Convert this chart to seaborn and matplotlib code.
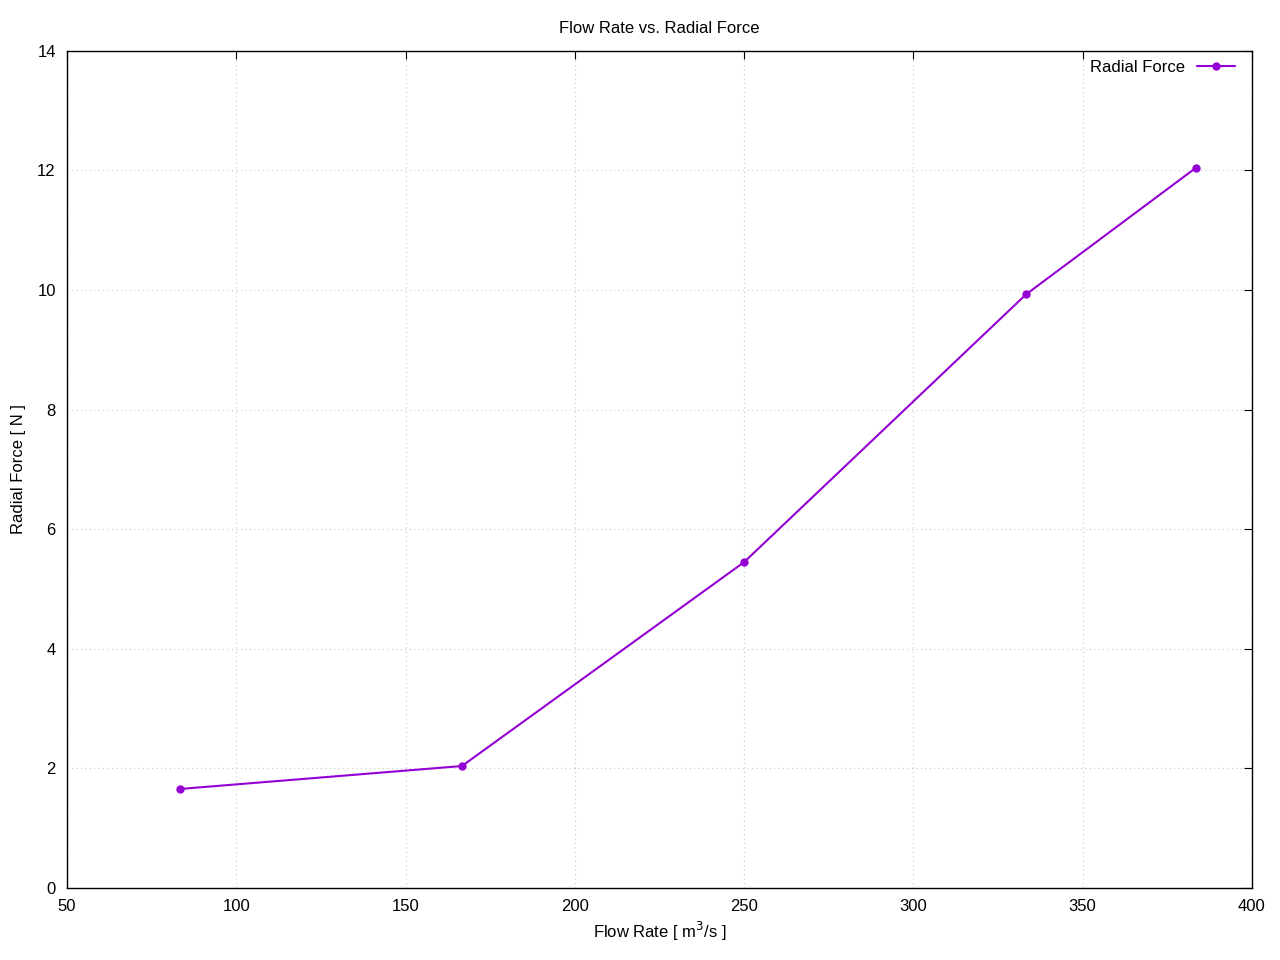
import matplotlib
matplotlib.use('Agg')
import matplotlib.pyplot as plt
import seaborn as sns
import pandas as pd

# values
flow_rate = [83.33, 166.67, 250.0, 333.33, 383.33]
radial_force = [1.656, 2.04, 5.45, 9.93, 12.04]

df = pd.DataFrame({'Flow Rate': flow_rate, 'Radial Force': radial_force})

sns.set_style('white')
plt.rcParams['font.family'] = ['Liberation Sans', 'DejaVu Sans']
plt.rcParams['text.color'] = 'black'
plt.rcParams['axes.labelcolor'] = 'black'

fig = plt.figure(figsize=(12.8, 9.6), dpi=100)
ax = fig.add_axes([0.0523, 0.075, 0.9258, 0.872])

sns.lineplot(x='Flow Rate', y='Radial Force', data=df, ax=ax, color='#9400d3',
             marker='o', markersize=6, markeredgewidth=0, linewidth=1.5,
             label='Radial Force')

ax.set_xlim(50, 400)
ax.set_ylim(0, 14)
ax.set_xticks(range(50, 401, 50))
ax.set_yticks(range(0, 15, 2))
ax.grid(True, color='#c8c8c8', linestyle=(0, (1, 3)), linewidth=0.8)
ax.tick_params(direction='in', top=True, right=True, length=6, width=0.8,
               labelsize=12, colors='black', pad=8)
for s in ax.spines.values():
    s.set_color('black')
    s.set_linewidth(1)

ax.set_title('Flow Rate vs. Radial Force', fontsize=12, pad=13)
ax.set_xlabel('Flow Rate [ m$^3$/s ]', fontsize=12, labelpad=4)
ax.set_ylabel('Radial Force [ N ]', fontsize=12, labelpad=8)

ax.legend(loc='upper right', frameon=False, markerfirst=False, fontsize=12,
          handlelength=2.3, borderaxespad=0.15, borderpad=0.5, handletextpad=0.7,
          bbox_to_anchor=(0.995, 1.002))

fig.savefig('out.png', dpi=100)
